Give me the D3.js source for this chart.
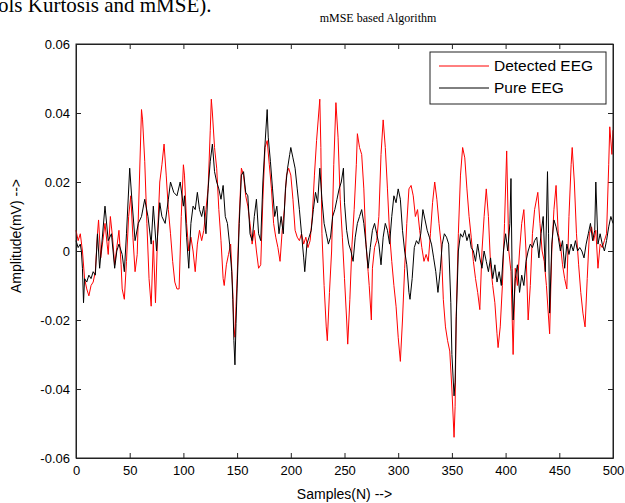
<!DOCTYPE html>
<html lang="en">
	<head>
		<meta charset="utf-8">
		<title>mMSE based Algorithm</title>
		<script src="https://d3js.org/d3.v7.min.js"></script>
	</head>
	<style>
		body { margin: 0; background: #fff; }
		.axis path, .axis line { stroke: #222; }
		.axis text { font-family: "Liberation Sans", Arial, sans-serif; font-size: 13px; fill: #000; }
		.lbl { font-family: "Liberation Sans", Arial, sans-serif; font-size: 14px; fill: #000; }
		.legend text { font-family: "Liberation Sans", Arial, sans-serif; font-size: 15.5px; fill: #000; }
	</style>
	<body>
		<div id="chart"></div>
		<script>
		// values are in units of 0.001 mV, [sample, value]
		var detectedEEG = [
			[0,6],[2,3],[4,5],[6,0],[8,-8],[10,-11],[12,-13],[14,-10],[16,-9],[18,-6],[20,5],[21,9],[23,-2],[25,3],[27,8],[29,2],[30,-1],[32,10],[34,4],[36,-4],[38,1],[40,6],[42,-4],[43,-11],[45,-14],[47,-3],[49,10],[51,16],[53,4],[55,-6],[57,-1],[59,20],[61,41],[62,38],[64,26],[66,8],[68,-8],[70,-16],[72,3],[74,-15],[76,5],[78,20],[80,25],[82,31],[84,22],[86,12],[88,5],[90,-3],[92,-9],[94,-11],[96,-11],[98,10],[100,25],
			[101,22],[103,8],[105,0],[107,4],[109,0],[111,-6],[113,2],[115,6],[117,3],[119,6],[121,12],[123,18],[125,35],[126,44],[127,40],[129,30],[131,24],[133,12],[135,3],[137,-8],[138,-10],[140,-4],[142,-1],[144,2],[146,-12],[147,-22],[148,-25],[149,-16],[150,-8],[152,10],[154,24],[156,22],[158,16],[160,13],[162,8],[164,2],[166,6],[168,0],[170,-5],[172,-4],[174,15],[176,30],[178,32],[180,25],[182,18],[184,8],[186,4],[188,1],[190,-3],[192,6],[194,12],[196,22],[198,24],[200,22],
			[202,15],[204,6],[206,4],[208,3],[210,5],[212,2],[214,4],[216,1],[218,3],[220,10],[222,22],[224,32],[226,40],[227,44],[228,30],[229,5],[231,-10],[233,-22],[234,-26],[236,-12],[238,0],[240,25],[242,43],[244,33],[246,15],[248,4],[250,-8],[252,-20],[253,-27],[255,-14],[257,2],[259,12],[261,25],[262,34],[264,30],[266,28],[268,18],[270,2],[272,-6],[273,-10],[275,-20],[276,-5],[278,1],[280,3],[282,10],[284,28],[286,38],[288,30],[290,18],[292,5],[294,-3],[296,-10],[298,-16],[300,-25],
			[302,-32],[304,-20],[306,-5],[308,8],[310,18],[312,19],[314,16],[316,10],[318,12],[320,6],[322,1],[324,-3],[326,-1],[328,-3],[330,5],[332,14],[334,20],[336,15],[338,8],[340,2],[342,-14],[344,-22],[346,-26],[348,-29],[350,-40],[352,-54],[353,-45],[354,-19],[356,5],[358,22],[360,30],[362,27],[364,18],[366,10],[368,4],[370,-3],[372,-8],[374,-12],[376,-17],[378,0],[380,10],[382,18],[384,10],[386,-4],[388,-10],[390,-15],[392,-24],[393,-28],[395,-22],[397,-10],[399,8],
			[401,29],[403,0],[405,-6],[407,-30],[409,-5],[411,-10],[413,0],[415,8],[417,12],[419,0],[421,-20],[423,-10],[425,5],[427,12],[430,17],[432,8],[434,0],[436,-3],[438,-10],[441,-24],[443,0],[445,12],[447,19],[449,5],[451,2],[453,-4],[455,-8],[457,-11],[459,10],[461,25],[462,30],[464,20],[466,5],[468,-4],[470,-12],[472,-18],[474,-22],[476,-8],[478,5],[480,7],[482,3],[484,6],[486,-5],[488,2],[490,1],[492,3],[494,5],[496,25],[497,36],[499,28],[500,35]
		];
		var pureEEG = [
			[0,3],[2,1],[4,2],[5,0],[6,-5],[7,-15],[8,-8],[10,-9],[12,-7],[14,-8],[16,-6],[18,-7],[20,5],[22,-5],[24,2],[27,13],[30,3],[33,5],[36,-5],[38,0],[40,2],[43,-1],[45,-6],[47,5],[50,24],[52,15],[55,3],[58,8],[61,10],[64,15],[67,10],[70,2],[72,13],[75,0],[78,14],[80,10],[83,8],[86,15],[88,20],[91,17],[94,16],[97,20],[100,13],
			[101,16],[103,4],[105,-5],[107,8],[109,13],[111,12],[113,17],[115,12],[117,10],[119,13],[121,5],[123,18],[125,26],[127,31],[129,23],[131,20],[133,18],[135,15],[137,19],[139,10],[141,8],[143,2],[145,-6],[146,-14],[147,-26],[148,-33],[149,-21],[150,-11],[152,8],[154,22],[156,23],[158,17],[160,16],[162,5],[164,3],[166,10],[168,15],[170,5],[172,3],[174,20],[176,31],[178,41],[179,33],[181,26],[183,18],[185,10],[187,13],[189,5],[191,10],[193,5],[195,18],[197,24],[199,28],[200,30],
			[202,27],[204,24],[206,18],[208,12],[210,5],[212,-2],[213,-6],[215,2],[217,4],[219,6],[221,12],[223,17],[225,14],[227,24],[229,15],[231,8],[233,5],[235,2],[237,4],[239,10],[241,12],[243,15],[245,18],[247,20],[249,24],[250,14],[252,6],[254,2],[256,0],[258,-3],[260,4],[262,8],[264,10],[266,12],[268,8],[270,2],[272,-5],[274,1],[276,6],[278,8],[280,5],[282,2],[284,-4],[286,4],[288,8],[290,6],[292,2],[294,10],[296,16],[298,14],[300,18],
			[302,15],[304,6],[306,0],[308,-4],[310,-12],[311,-14],[313,-8],[315,1],[317,3],[319,2],[321,5],[323,12],[325,9],[327,6],[329,4],[331,2],[333,-2],[335,-6],[337,-12],[339,-6],[341,2],[343,5],[345,4],[347,2],[349,-15],[350,-30],[352,-42],[353,-38],[354,-20],[356,0],[358,5],[360,4],[362,6],[364,3],[366,5],[368,1],[370,0],[372,-3],[374,2],[376,-2],[378,-5],[380,0],[382,-3],[384,-6],[386,-2],[388,-8],[390,-4],[392,-9],[394,-6],[396,-10],[398,0],
			[400,5],[402,0],[404,8],[405,21],[406,-5],[407,-20],[409,-8],[411,-4],[413,-12],[415,-7],[417,-10],[419,-3],[421,0],[423,2],[425,1],[427,3],[429,4],[431,-2],[433,5],[435,10],[437,-6],[439,23],[440,5],[441,-18],[443,2],[445,9],[447,7],[449,4],[451,0],[453,3],[455,-5],[457,2],[459,-1],[461,2],[463,0],[465,3],[467,0],[469,1],[471,0],[473,-2],[475,2],[477,5],[479,8],[481,3],[483,6],[484,20],[486,2],[488,5],[490,2],[492,0],[494,3],[496,7],[498,10],[500,8]
		];
		var xTicks = [0, 50, 100, 150, 200, 250, 300, 350, 400, 450, 500];
		var yTicks = [-0.06, -0.04, -0.02, 0, 0.02, 0.04, 0.06];
		var seriesNames = ["Detected EEG", "Pure EEG"];
		var seriesColors = ["#ff0000", "#000000"];

		var width = 625, height = 503;
		var plotL = 76, plotR = 613, plotT = 44, plotB = 458;

		var svg = d3.select("#chart").append("svg")
			.attr("width", width)
			.attr("height", height)
			.style("display", "block");

		svg.append("rect").attr("width", width).attr("height", height).attr("fill", "#fff");

		// cut-off line of the surrounding document text
		svg.append("text")
			.attr("x", -2).attr("y", 12)
			.style("font-family", "'Liberation Serif', 'Times New Roman', serif")
			.style("font-size", "21px")
			.text("ols Kurtosis and mMSE).");

		var x = d3.scaleLinear().domain([0, 500]).range([plotL, plotR]);
		var y = d3.scaleLinear().domain([-0.06, 0.06]).range([plotB, plotT]);
		var fmt = function(d) { return d === 0 ? "0" : d.toFixed(2); };

		svg.append("g").attr("class", "axis")
			.attr("transform", "translate(0," + plotB + ")")
			.call(d3.axisBottom(x).tickValues(xTicks).tickSizeInner(-5).tickSizeOuter(0).tickPadding(8));
		svg.append("g").attr("class", "axis")
			.attr("transform", "translate(0," + plotT + ")")
			.call(d3.axisTop(x).tickValues(xTicks).tickSizeInner(-5).tickSizeOuter(0).tickFormat(""));
		svg.append("g").attr("class", "axis")
			.attr("transform", "translate(" + plotL + ",0)")
			.call(d3.axisLeft(y).tickValues(yTicks).tickSizeInner(-5).tickSizeOuter(0).tickPadding(6).tickFormat(fmt));
		svg.append("g").attr("class", "axis")
			.attr("transform", "translate(" + plotR + ",0)")
			.call(d3.axisRight(y).tickValues(yTicks).tickSizeInner(-5).tickSizeOuter(0).tickFormat(""));

		var line = d3.line()
			.x(function(d) { return x(d[0]); })
			.y(function(d) { return y(d[1] / 1000); });

		[detectedEEG, pureEEG].forEach(function(s, i) {
			svg.append("path")
				.datum(s)
				.attr("fill", "none")
				.attr("stroke", seriesColors[i])
				.attr("stroke-width", 1)
				.attr("d", line);
		});

		// box
		svg.append("rect")
			.attr("x", plotL).attr("y", plotT)
			.attr("width", plotR - plotL).attr("height", plotB - plotT)
			.attr("fill", "none").attr("stroke", "#222");

		svg.append("text")
			.attr("x", 378).attr("y", 22)
			.attr("text-anchor", "middle")
			.style("font-family", "'Liberation Serif', 'Times New Roman', serif")
			.style("font-size", "12px")
			.text("mMSE based Algorithm");

		svg.append("text").attr("class", "lbl")
			.attr("x", (plotL + plotR) / 2).attr("y", 499)
			.attr("text-anchor", "middle")
			.text("Samples(N) -->");

		svg.append("text").attr("class", "lbl")
			.attr("transform", "translate(21,236) rotate(-90)")
			.attr("text-anchor", "middle")
			.text("Amplitude(mV) -->");

		var legend = svg.append("g").attr("class", "legend");
		legend.append("rect")
			.attr("x", 430).attr("y", 52).attr("width", 176).attr("height", 52)
			.attr("fill", "#fff").attr("stroke", "#222");
		seriesNames.forEach(function(n, i) {
			var ly = 66 + i * 22;
			legend.append("line")
				.attr("x1", 439).attr("x2", 489).attr("y1", ly).attr("y2", ly)
				.attr("stroke", seriesColors[i]);
			legend.append("text")
				.attr("x", 494).attr("y", ly + 5)
				.text(n);
		});
		</script>
	</body>
</html>
